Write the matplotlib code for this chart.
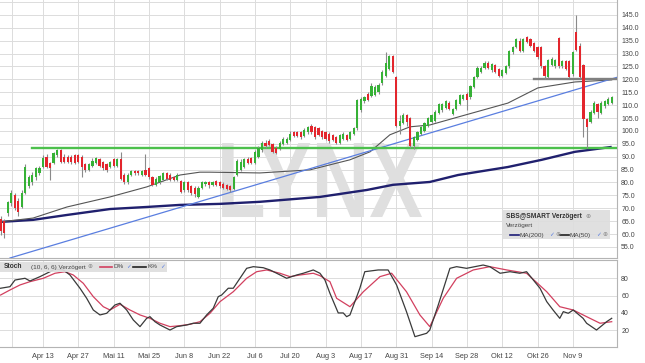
import matplotlib
matplotlib.use('Agg')
import matplotlib.pyplot as plt
from matplotlib.patches import Rectangle, PathPatch
from matplotlib.textpath import TextPath
from matplotlib.font_manager import FontProperties
from matplotlib.transforms import Affine2D
from matplotlib.lines import Line2D

plt.rcParams['font.family'] = ['Liberation Sans', 'DejaVu Sans']

W, H, DPI = 645, 363, 100

# ---------------- data (daily candles, index = trading day) ----------------
opens = [66, 65, 68, 72, 75, 73, 70.5, 76, 78.5, 80, 82, 83.5, 86, 90, 87.5, 87.5, 90.5, 92.5, 90, 90,
         90, 90.5, 90.5, 90, 87, 85, 86.5, 87.5, 89, 88, 87, 86, 89, 86.5, 89, 83, 80, 83, 84.5, 84.5,
         83, 85, 85.5, 82, 79, 80, 81, 83.5, 83, 82, 81, 80.5, 77, 80, 78.5, 78, 74.5, 78, 79.5, 80,
         79, 80.5, 80, 79.5, 79, 78.5, 77.5, 83, 85, 86, 89, 89.5, 87.5, 90, 92.5, 95.5, 96, 95, 93.5, 93,
         95, 95.5, 96.5, 99.5, 99.5, 99.5, 98, 99.5, 102, 101.5, 101, 100, 99.5, 99, 98.5, 97.5, 95.5, 97, 98.5, 97,
         99, 101, 108, 111.5, 114.5, 113.5, 114, 115, 118.5, 121.5, 124, 129, 121, 102, 103, 106, 105, 94, 96.5, 99,
         100, 102, 103.5, 104, 107, 108, 109, 111, 106.5, 108.5, 110.5, 112.5, 114.5, 113, 117, 121, 123, 124.5, 126.5, 123.5,
         125.5, 124, 121.5, 122.5, 125, 130.5, 132.5, 135, 131, 136.5, 135.5, 134, 132.5, 132.5, 125, 121, 125.5, 125, 136, 125,
         127, 127, 122, 138.5, 133, 125.5, 104.5, 103.5, 107, 110.5, 107, 109.5, 110.5, 111]
highs = [67, 66, 73, 77, 76, 74, 77, 87, 83, 84, 86, 86.5, 90.5, 91, 88, 92, 93, 93, 91, 90.5,
         90.5, 91, 91, 90.5, 87.5, 87.5, 89.5, 90, 89.5, 88.5, 87.5, 88.5, 89.5, 89.5, 92, 83.5, 83.5, 85, 85, 85,
         85, 91, 86, 82.5, 82, 83, 84, 84, 83.5, 82.5, 83.5, 81, 80.5, 80.5, 79, 78.5, 78.5, 80.5, 80.5, 80.5,
         80.5, 81, 80.5, 80, 79.5, 79, 82.5, 89, 89, 89.5, 90, 90, 92.5, 94, 96, 96.5, 97, 95.5, 94, 96,
         97.5, 97.5, 100, 100, 100, 100, 101, 102, 102.5, 102, 101.5, 100.5, 100, 99.5, 99, 98, 99, 99.5, 99, 100,
         101.5, 112.5, 113, 113.5, 115, 118.5, 118, 118.5, 123.5, 130.6, 129.5, 129.5, 121.5, 106, 107, 106.5, 105.5, 98, 100, 102,
         103.5, 105.5, 106.5, 108, 111, 111, 112, 111.5, 109, 112.5, 114.5, 114.5, 115, 118, 121.5, 125, 125, 127, 127, 126.5,
         126, 124.5, 124, 125.5, 131.5, 133, 136, 136, 136, 137, 136, 134.5, 133, 133, 125.5, 128, 128.5, 128, 136.5, 127.5,
         127.5, 127.5, 131, 145, 134, 126, 105, 108, 111.5, 111, 111.5, 112, 113, 113.5]
lows = [59.5, 58.5, 67, 71, 69.5, 67, 70, 75.5, 78, 79, 81, 83, 85.5, 85.5, 81, 87, 90, 87.5, 87.5, 87.5,
        87, 87, 87.5, 82, 84, 84.5, 86, 87, 86, 85, 84, 85.5, 86, 86, 81, 79.5, 79.5, 82.5, 83, 83,
        82.5, 82.5, 81.5, 78.5, 78.5, 79.5, 80.5, 81, 80.5, 80.5, 80.5, 76, 76.5, 76.5, 75, 74.5, 74, 77.5, 78.5, 78,
        78.5, 78.5, 78, 77.5, 77, 76.5, 77, 82.5, 84.5, 85.5, 87, 87, 87, 89.5, 92, 93.5, 94, 91.5, 91, 92.5,
        94.5, 95, 96, 97.5, 97.5, 97, 97.5, 99, 99, 97, 98, 97, 96.5, 95.5, 96, 94.8, 95, 96.5, 96, 96.5,
        98.5, 100.5, 107.5, 111, 111.5, 113, 113.5, 114.5, 118, 121, 123.5, 122.5, 101.5, 99, 102.5, 102, 93.5, 93, 96, 98.5,
        99.5, 101.5, 103, 103.5, 106.5, 107.5, 108.5, 108, 106, 108, 110, 112, 108, 112.5, 116.5, 120.5, 122.5, 124, 124, 123,
        122.5, 121, 121, 122, 124.5, 130, 132, 130.5, 130.5, 134, 132.5, 130.5, 128, 124.5, 120, 120.5, 125, 124.5, 124.5, 124.5,
        123.5, 120.5, 121.5, 131, 120.5, 97.5, 93.3, 103, 106.5, 105, 106.5, 109, 110, 110.5]
closes = [61, 60.5, 72.5, 76, 70, 68.5, 76, 86, 82, 83, 85.5, 85.5, 89.5, 86, 85.5, 91.5, 92.5, 88, 88, 88,
          88, 87.5, 88, 86, 85, 87, 88.5, 89.5, 86.5, 85.5, 85, 88, 86.5, 89, 81.5, 80, 83, 84.5, 83.5, 83.5,
          84.5, 83, 82, 79, 81.5, 82.5, 83.5, 81.5, 81, 81, 83, 76.5, 80, 77, 76, 75.5, 78, 80, 80, 79,
          80, 79, 78.5, 78, 77.5, 77, 82, 88.5, 88, 89, 87.5, 87.5, 92, 93.5, 95.5, 94, 94.5, 92, 91.5, 95.5,
          97, 97, 99, 98, 98, 97.5, 100.5, 101.5, 99.5, 97.5, 98.5, 97.5, 97, 96, 96.5, 95.3, 98.5, 99, 96.5, 99.5,
          101, 112, 112.5, 113, 112, 117.5, 117, 118, 123, 126.5, 129, 123, 102, 104, 106, 103.5, 94, 97.5, 99.5, 101.5,
          103, 105, 106, 107.5, 110.5, 110.5, 111.5, 108.5, 108.5, 112, 114, 114, 112, 117.5, 121, 124.5, 124.5, 126.5, 124.5, 126,
          123, 121.5, 123.5, 125, 131, 132.5, 135.5, 131, 135.5, 134.5, 133, 131, 128.5, 125, 121.5, 127.5, 128, 127.5, 125, 127,
          124, 121, 130.5, 131.5, 121, 104.5, 101.5, 107.5, 111, 107.5, 111, 111.5, 112.5, 113]

# moving averages (day index, value)
ma200_day = [0, 9.2, 18.8, 31, 41.4, 50.8, 62.1, 73.4, 90.4, 103.7, 111.1, 121.5, 129.5, 143.6, 153.2, 162.6, 173]
ma200_val = [64.7, 65.5, 67.4, 69.7, 70.5, 71.3, 71.7, 72.5, 74.4, 77.1, 79.1, 80.2, 82.9, 86.0, 88.8, 91.9, 93.8]
ma50_day = [0, 9.2, 18.8, 31, 41.4, 50.8, 56.4, 59.3, 73.4, 87.6, 98.9, 104.6, 110.2, 115.9, 121.5, 129.5, 143.6, 152.1, 162.6, 173]
ma50_val = [64.7, 66.2, 70.5, 74.4, 78.3, 82.9, 84.0, 84.0, 83.7, 84.9, 88.8, 91.9, 98.5, 101.6, 102.3, 105.4, 110.8, 116.7, 119.0, 119.8]

# drawn lines
trend_day = [2.66, 174.5]
trend_val = [50.7, 120.8]
support_day = [8.8, 174.5]
support_val = [93.2, 93.2]
resist_day = [151.0, 174.5]
resist_val = [120.3, 120.3]

# stochastic
k_day = [0, 2.66, 4.08, 6.91, 8.32, 11.15, 13.98, 15.4, 17.75, 19.64, 22.47, 24.37, 26.24, 28.13, 30.03, 32.38,
         33.8, 35.69, 37.56, 39.46, 41.35, 42.29, 43.7, 45.12, 47.95, 49.84, 52.67, 54.54, 56.44, 58.33, 60.2,
         61.62, 62.58, 64.45, 65.87, 67.76, 69.66, 71.53, 74.36, 76.25, 78.15, 80.98, 83.81, 85.68, 88.51, 90.4,
         91.82, 93.23, 95.58, 97.0, 97.96, 98.9, 101.7, 103.1, 106.9, 109.7, 112.1, 114.9, 117.3, 120.6, 121.5,
         123.9, 127.2, 129.1, 131.9, 136.6, 138.5, 141.4, 144.2, 147.0, 148.9, 152.7, 154.6, 156.4, 158.3, 159.3,
         160.7, 162.1, 164.9, 165.9, 168.7, 171.6, 173]
k_val = [68.5, 70.3, 78, 80, 76.9, 81.9, 87.6, 90.7, 89.6, 83.8, 68.5, 56.9, 43.4, 37.7, 39.6, 49.2,
         51.2, 43.4, 31.9, 24.2, 33.8, 35.7, 29.9, 26.1, 20.3, 24.2, 26.1, 28.1, 28.1, 37.7, 45.4,
         58.8, 60.7, 68.5, 68.5, 80, 91.5, 93.4, 92.2, 89.6, 85.8, 80, 83.8, 85.8, 89.6, 85.8,
         78, 62.7, 40, 40, 35.7, 37.7, 68.5, 87.6, 89.6, 89.6, 72.3, 41.5, 12.6, 16.5, 20.3,
         49.2, 91.5, 93.4, 91.5, 95.3, 93.4, 85.8, 87.6, 85.8, 87.6, 68.5, 53.1, 43.4, 33.8, 41.5,
         39.6, 43.4, 33.8, 28.1, 20.3, 30, 33.8]
d_day = [0, 2.66, 5.49, 8.32, 12.09, 15.4, 18.23, 20.58, 23.41, 26.24, 29.07, 30.97, 33.8, 36.63, 39.46, 42.29,
         45.12, 47.95, 50.78, 53.61, 56.44, 59.27, 62.1, 65.87, 69.66, 72.49, 75.32, 79.08, 81.91, 84.74, 88.51,
         90.4, 93.23, 95.13, 98.9, 102.7, 107.4, 110.7, 114.9, 118.7, 121.5, 125.3, 129.1, 133.8, 138.5, 143.3,
         148.9, 154.6, 158.3, 162.1, 165.9, 169.7, 173]
d_val = [60.7, 66.5, 72.3, 76.1, 80, 85.8, 87.6, 83.8, 74.2, 58.8, 47.2, 43.4, 50, 43.4, 37.7, 33.8,
         28.1, 24.2, 25.3, 26.9, 29.9, 39.6, 53, 64.5, 80, 87.6, 89.6, 85.8, 81.9, 83.8, 85.8,
         83, 76.1, 56.9, 47.2, 64.5, 81.9, 85.8, 64.5, 37.7, 24.2, 56.9, 80, 89.6, 93.4, 89.6,
         85.8, 64.5, 47.2, 43.4, 35.7, 28.1, 29.9]

tick_days = [12, 22, 32, 42, 52, 62, 72, 82, 92, 102, 112, 122, 132, 142, 152, 162]
tick_labels = ['Apr 13', 'Apr 27', 'Mai 11', 'Mai 25', 'Jun 8', 'Jun 22', 'Jul 6', 'Jul 20',
               'Aug 3', 'Aug 17', 'Aug 31', 'Sep 14', 'Sep 28', 'Okt 12', 'Okt 26', 'Nov 9']
price_ticks = [55, 60, 65, 70, 75, 80, 85, 90, 95, 100, 105, 110, 115, 120, 125, 130, 135, 140, 145]
stoch_ticks = [20, 40, 60, 80]

# ---------------- figure ----------------
fig = plt.figure(figsize=(W / DPI, H / DPI), dpi=DPI)
fig.patch.set_facecolor('white')

def fx(x):
    return x / W

def fy(y):
    return 1 - y / H

XL = (-0.17, 174.5)
GRID = '#dcdcdc'
SPINE = '#b4b4b4'

ax = fig.add_axes([0, fy(258), fx(617), (258 - 0) / H])
ax2 = fig.add_axes([0, fy(347), fx(617), (347 - 260) / H])

for a in (ax, ax2):
    a.set_xlim(*XL)
    a.set_facecolor('white')
    for s in ('left', 'top'):
        a.spines[s].set_visible(False)
    for s in ('right', 'bottom'):
        a.spines[s].set_color(SPINE)
        a.spines[s].set_linewidth(0.8)
    a.yaxis.tick_right()
    a.tick_params(axis='both', length=0, labelsize=5, colors='#444444', pad=3)
    for d in tick_days + [3.23]:
        a.axvline(d, color=GRID, lw=0.7, zorder=0)

ax2.spines['top'].set_visible(True)
ax2.spines['top'].set_color(SPINE)
ax2.spines['top'].set_linewidth(0.8)

# main price panel
ax.set_ylim(50.7, 150.8)
ax.set_yticks(price_ticks)
ax.set_yticklabels([f'{v:.1f}' for v in price_ticks])
for v in range(55, 151, 5):
    ax.axhline(v, color=GRID, lw=0.7, zorder=0)
ax.set_xticks([])

# LYNX watermark
fp = FontProperties(family='Liberation Sans', weight='bold')
tp = TextPath((0, 0), 'LYNX', size=1, prop=fp)
ext = tp.get_extents()
x0, x1, y0, y1 = 62.7, 119.3, 66.6, 95.3
tr = Affine2D().translate(-ext.x0, -ext.y0).scale((x1 - x0) / ext.width, (y1 - y0) / ext.height).translate(x0, y0)
ax.add_patch(PathPatch(tr.transform_path(tp), facecolor='#dfdfdf', edgecolor='none', zorder=1))

# lines
ax.plot(ma200_day, ma200_val, color='#20206e', lw=1.7, zorder=3, solid_capstyle='butt')
ax.plot(ma50_day, ma50_val, color='#555555', lw=0.8, zorder=3)
ax.plot(trend_day, trend_val, color='#5a7ee0', lw=0.9, zorder=3)
ax.plot(support_day, support_val, color='#4cc04c', lw=1.7, zorder=3)
ax.plot(resist_day, resist_val, color='#808080', lw=1.7, zorder=3)

# candles
days = list(range(len(closes)))
ax.vlines(days, lows, highs, color='#8a8a8a', lw=0.8, zorder=4)
bottoms = [min(o, c) for o, c in zip(opens, closes)]
heights = [max(abs(c - o), 0.3) for o, c in zip(opens, closes)]
cols = ['#36b136' if c >= o else '#e3262d' for o, c in zip(opens, closes)]
ax.bar(days, heights, bottom=bottoms, width=0.62, color=cols, edgecolor='none', zorder=5)

# stochastic panel
ax2.set_ylim(0.7, 101.1)
ax2.set_yticks(stoch_ticks)
for v in stoch_ticks:
    ax2.axhline(v, color=GRID, lw=0.7, zorder=0)
ax2.plot(d_day, d_val, color='#d2405f', lw=0.9, zorder=3)
ax2.plot(k_day, k_val, color='#3a3a3a', lw=0.9, zorder=4)
ax2.set_xticks(tick_days)
ax2.set_xticklabels(tick_labels, fontsize=5.3)
ax2.tick_params(axis='x', pad=4)

# main legend box
fig.patches.append(Rectangle((fx(502), fy(239)), fx(610) - fx(502), fy(210) - fy(239),
                             transform=fig.transFigure, facecolor='#dedede', edgecolor='none', alpha=0.92, zorder=10))
fig.text(fx(506), fy(216), 'SBS@SMART Verzögert', fontsize=4.8, fontweight='bold', color='#333333', va='center', zorder=11)
fig.text(fx(585), fy(216), '⊕', fontsize=4.5, color='#888888', va='center', family='DejaVu Sans', zorder=11)
fig.text(fx(506), fy(226), 'Verzögert', fontsize=4.6, color='#444444', va='center', zorder=11)
fig.lines.append(Line2D([fx(510), fx(519)], [fy(235), fy(235)], transform=fig.transFigure, color='#1e1e78', lw=1.2, zorder=11))
fig.text(fx(520), fy(235), 'MA(200)', fontsize=4.6, color='#444444', va='center', zorder=11)
fig.text(fx(549), fy(235), '✓', fontsize=4.2, color='#5a7ee0', va='center', family='DejaVu Sans', zorder=11)
fig.text(fx(555), fy(235), '⊕', fontsize=4.2, color='#888888', va='center', family='DejaVu Sans', zorder=11)
fig.lines.append(Line2D([fx(560), fx(569)], [fy(235), fy(235)], transform=fig.transFigure, color='#222222', lw=1.2, zorder=11))
fig.text(fx(570), fy(235), 'MA(50)', fontsize=4.6, color='#444444', va='center', zorder=11)
fig.text(fx(596), fy(235), '✓', fontsize=4.2, color='#5a7ee0', va='center', family='DejaVu Sans', zorder=11)
fig.text(fx(602), fy(235), '⊕', fontsize=4.2, color='#888888', va='center', family='DejaVu Sans', zorder=11)

# stochastic legend box
fig.patches.append(Rectangle((fx(0), fy(272)), fx(167), fy(262) - fy(272),
                             transform=fig.transFigure, facecolor='#dedede', edgecolor='none', alpha=0.92, zorder=10))
fig.text(fx(4), fy(267), 'Stoch', fontsize=4.8, fontweight='bold', color='#333333', va='center', zorder=11)
fig.text(fx(31), fy(267), '(10, 6, 6) Verzögert', fontsize=4.6, color='#444444', va='center', zorder=11)
fig.text(fx(87), fy(267), '⊕', fontsize=4.2, color='#888888', va='center', family='DejaVu Sans', zorder=11)
fig.lines.append(Line2D([fx(100), fx(112)], [fy(267), fy(267)], transform=fig.transFigure, color='#d2405f', lw=1.2, zorder=11))
fig.text(fx(113), fy(267), 'D%', fontsize=4.6, color='#444444', va='center', zorder=11)
fig.text(fx(126), fy(267), '✓', fontsize=4.2, color='#5a7ee0', va='center', family='DejaVu Sans', zorder=11)
fig.lines.append(Line2D([fx(133), fx(146)], [fy(267), fy(267)], transform=fig.transFigure, color='#222222', lw=1.2, zorder=11))
fig.text(fx(147), fy(267), 'K%', fontsize=4.6, color='#444444', va='center', zorder=11)
fig.text(fx(160), fy(267), '✓', fontsize=4.2, color='#5a7ee0', va='center', family='DejaVu Sans', zorder=11)

fig.savefig('out.png', dpi=DPI, facecolor='white')
